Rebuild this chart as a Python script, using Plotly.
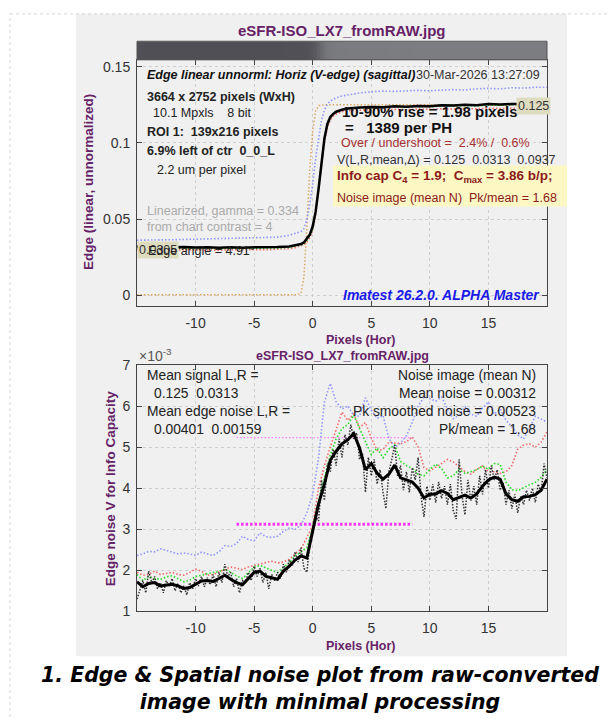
import plotly.graph_objects as go

W, H = 608, 725

# ---------------- data ----------------
x_ticks = [-10, -5, 0, 5, 10, 15]
x_tick_text = ["-10", "-5", "0", "5", "10", "15"]
y_top_ticks = [0, 0.05, 0.1, 0.15]
y_top_text = ["0", "0.05", "0.1", "0.15"]
y_bot_ticks = [1, 2, 3, 4, 5, 6, 7]
y_bot_text = ["1", "2", "3", "4", "5", "6", "7"]

# Top plot: edge profile (linear, unnormalized)
x_top = [-15, -14, -13, -12, -11, -10, -9, -8, -7, -6, -5, -4, -3, -2, -1.5, -1, -0.75, -0.5, -0.25, 0,
         0.25, 0.5, 0.75, 1, 1.25, 1.5, 1.75, 2, 2.5, 3, 4, 5, 6, 7, 8, 9, 10, 11, 12, 13, 14, 15, 16,
         17, 18, 19, 20]
edge_black = [0.0322, 0.0318, 0.0320, 0.0316, 0.0318, 0.0315, 0.0317, 0.0314, 0.0316, 0.0313, 0.0316,
              0.0315, 0.0318, 0.0322, 0.0328, 0.0338, 0.0348, 0.0375, 0.0400, 0.0455, 0.0550, 0.0700,
              0.0880, 0.1030, 0.1125, 0.1170, 0.1190, 0.1205, 0.1218, 0.1226, 0.1232, 0.1236, 0.1234,
              0.1240, 0.1238, 0.1243, 0.1241, 0.1247, 0.1245, 0.1250, 0.1248, 0.1255, 0.1252, 0.1256,
              0.1255, 0.1258, 0.1260]
edge_red = [0.0302, 0.0300, 0.0303, 0.0299, 0.0301, 0.0298, 0.0300, 0.0297, 0.0300, 0.0298, 0.0301,
            0.0300, 0.0303, 0.0308, 0.0314, 0.0324, 0.0334, 0.0352, 0.0380, 0.0425, 0.0530, 0.0690,
            0.0870, 0.1010, 0.1100, 0.1150, 0.1175, 0.1190, 0.1205, 0.1212, 0.1215, 0.1218, 0.1216,
            0.1220, 0.1218, 0.1222, 0.1220, 0.1224, 0.1222, 0.1226, 0.1224, 0.1228, 0.1226, 0.1228,
            0.1227, 0.1229, 0.1230]
edge_green = [0.0314, 0.0311, 0.0313, 0.0309, 0.0311, 0.0308, 0.0310, 0.0307, 0.0310, 0.0307, 0.0310,
              0.0309, 0.0312, 0.0316, 0.0322, 0.0332, 0.0342, 0.0362, 0.0390, 0.0435, 0.0550, 0.0710,
              0.0890, 0.1030, 0.1115, 0.1165, 0.1190, 0.1205, 0.1218, 0.1226, 0.1230, 0.1233, 0.1231,
              0.1237, 0.1235, 0.1240, 0.1237, 0.1243, 0.1241, 0.1245, 0.1243, 0.1250, 0.1247, 0.1251,
              0.1250, 0.1253, 0.1255]
edge_blue = [0.0363, 0.0362, 0.0365, 0.0366, 0.0368, 0.0370, 0.0372, 0.0373, 0.0375, 0.0377, 0.0378,
             0.0380, 0.0383, 0.0395, 0.0405, 0.0420, 0.0440, 0.0500, 0.0600, 0.0730, 0.0900, 0.1040,
             0.1150, 0.1215, 0.1255, 0.1275, 0.1288, 0.1296, 0.1308, 0.1315, 0.1328, 0.1335, 0.1340,
             0.1338, 0.1343, 0.1345, 0.1342, 0.1348, 0.1350, 0.1347, 0.1355, 0.1358, 0.1355, 0.1362,
             0.1360, 0.1365, 0.1365]
edge_ideal = [0.0005, 0.0005, 0.0005, 0.0005, 0.0005, 0.0005, 0.0005, 0.0005, 0.0005, 0.0005, 0.0005,
              0.0005, 0.0005, 0.0005, 0.0005, 0.0015, 0.0120, 0.0450, 0.0830, 0.1080, 0.1210, 0.1245,
              0.1250, 0.1250, 0.1250, 0.1250, 0.1250, 0.1250, 0.1250, 0.1250, 0.1250, 0.1250, 0.1250,
              0.1250, 0.1250, 0.1250, 0.1250, 0.1250, 0.1250, 0.1250, 0.1250, 0.1250, 0.1250, 0.1250,
              0.1250, 0.1250, 0.1250]

# Bottom plot: edge noise (units of 1e-3)
x_noise = [-15, -14.5, -14, -13.5, -13, -12.5, -12, -11.5, -11, -10.5, -10, -9.5, -9, -8.5, -8, -7.5,
           -7, -6.5, -6, -5.5, -5, -4.5, -4, -3.5, -3, -2.5, -2, -1.5, -1, -0.5, 0, 0.5, 1, 1.5, 2,
           2.5, 3, 3.5, 4, 4.5, 5, 5.5, 6, 6.5, 7, 7.5, 8, 8.5, 9, 9.5, 10, 10.5, 11, 11.5, 12, 12.5,
           13, 13.5, 14, 14.5, 15, 15.5, 16, 16.5, 17, 17.5, 18, 18.5, 19, 19.5, 20]
noise_smooth = [1.72, 1.60, 1.68, 1.70, 1.62, 1.64, 1.66, 1.62, 1.56, 1.58, 1.66, 1.74, 1.75, 1.73,
                1.80, 1.88, 1.78, 1.70, 1.65, 1.80, 1.95, 1.98, 1.85, 1.82, 1.78, 1.98, 2.10, 2.25,
                2.35, 2.30, 2.98, 3.62, 4.10, 4.68, 4.90, 5.08, 5.18, 5.33, 4.98, 4.45, 4.60, 4.36,
                4.22, 4.34, 4.56, 4.25, 4.20, 4.15, 4.00, 3.76, 3.85, 3.86, 3.94, 3.87, 3.72, 3.78,
                3.83, 3.76, 3.86, 4.05, 4.20, 4.27, 4.22, 3.86, 3.72, 3.68, 3.79, 3.80, 3.84, 3.95,
                4.22]
noise_green = [1.90, 1.75, 1.85, 1.80, 1.78, 1.84, 1.87, 1.80, 1.72, 1.76, 1.85, 1.88, 1.92, 1.95,
               1.97, 2.03, 1.95, 1.86, 1.80, 1.95, 2.08, 2.12, 2.05, 2.00, 1.95, 2.08, 2.19, 2.35,
               2.45, 2.55, 3.05, 3.70, 4.25, 4.80, 5.20, 5.45, 5.55, 5.78, 5.45, 5.15, 4.82, 4.98,
               4.74, 4.95, 5.05, 4.65, 4.55, 4.48, 4.34, 4.30, 4.46, 4.58, 4.48, 4.25, 4.30, 4.46,
               4.36, 4.40, 4.45, 4.54, 4.46, 4.60, 4.58, 4.15, 3.96, 3.94, 4.02, 4.08, 4.14, 4.26,
               4.46]
noise_red = [1.95, 1.88, 1.90, 1.98, 1.90, 1.92, 1.95, 1.90, 1.88, 1.95, 2.03, 1.98, 1.88, 1.90,
             1.96, 2.03, 2.08, 2.05, 2.02, 2.08, 2.12, 2.15, 2.19, 2.22, 2.18, 2.20, 2.27, 2.40,
             2.52, 2.80, 3.10, 4.00, 4.55, 5.00, 5.40, 5.85, 5.65, 5.80, 5.48, 5.60, 5.22, 4.92,
             4.94, 5.12, 5.10, 5.08, 5.13, 5.25, 5.00, 4.50, 4.42, 4.50, 4.60, 4.70, 4.64, 4.52,
             4.40, 4.34, 4.46, 4.54, 4.40, 4.40, 4.36, 4.40, 4.55, 4.95, 5.05, 5.08, 5.00, 5.12,
             5.37]
noise_blue = [2.36, 2.40, 2.46, 2.45, 2.52, 2.49, 2.44, 2.40, 2.42, 2.40, 2.36, 2.44, 2.40, 2.36,
              2.45, 2.60, 2.58, 2.65, 2.83, 2.75, 2.72, 2.91, 2.82, 2.80, 2.83, 2.95, 3.03, 3.00,
              3.10, 3.40, 3.85, 4.74, 6.10, 6.55, 6.10, 5.93, 6.00, 5.77, 5.75, 6.20, 5.90, 5.70,
              5.77, 5.21, 5.00, 5.10, 5.28, 5.60, 6.00, 6.22, 6.18, 6.12, 6.22, 5.93, 5.69, 5.78,
              5.98, 5.80, 5.75, 5.95, 6.10, 5.80, 5.93, 5.65, 5.50, 5.30, 5.20, 5.45, 5.75, 5.68,
              5.61]

x_raw = [-15.0, -14.75, -14.5, -14.25, -14.0, -13.75, -13.5, -13.25, -13.0, -12.75, -12.5, -12.25,
         -12.0, -11.75, -11.5, -11.25, -11.0, -10.75, -10.5, -10.25, -10.0, -9.75, -9.5, -9.25,
         -9.0, -8.75, -8.5, -8.25, -8.0, -7.75, -7.5, -7.25, -7.0, -6.75, -6.5, -6.25, -6.0, -5.75,
         -5.5, -5.25, -5.0, -4.75, -4.5, -4.25, -4.0, -3.75, -3.5, -3.25, -3.0, -2.75, -2.5, -2.25,
         -2.0, -1.75, -1.5, -1.25, -1.0, -0.75, -0.5, -0.25, 0.0, 0.25, 0.5, 0.75, 1.0, 1.25, 1.5,
         1.75, 2.0, 2.25, 2.5, 2.75, 3.0, 3.25, 3.5, 3.75, 4.0, 4.25, 4.5, 4.75, 5.0, 5.25, 5.5,
         5.75, 6.0, 6.25, 6.5, 6.75, 7.0, 7.25, 7.5, 7.75, 8.0, 8.25, 8.5, 8.75, 9.0, 9.25, 9.5,
         9.75, 10.0, 10.25, 10.5, 10.75, 11.0, 11.25, 11.5, 11.75, 12.0, 12.25, 12.5, 12.75, 13.0,
         13.25, 13.5, 13.75, 14.0, 14.25, 14.5, 14.75, 15.0, 15.25, 15.5, 15.75, 16.0, 16.25, 16.5,
         16.75, 17.0, 17.25, 17.5, 17.75, 18.0, 18.25, 18.5, 18.75, 19.0, 19.25, 19.5, 19.75, 20.0]
noise_raw = [1.30, 1.55, 1.75, 1.45, 1.98, 1.70, 1.85, 1.55, 1.70, 1.45, 1.75, 1.60, 1.80, 1.50,
             1.68, 1.45, 1.62, 1.40, 1.70, 1.55, 1.80, 1.62, 1.85, 1.60, 1.82, 1.65, 1.90, 1.60,
             1.95, 1.70, 2.15, 1.85, 1.95, 1.60, 1.80, 1.45, 1.75, 1.70, 1.95, 1.75, 2.10, 1.85,
             2.05, 1.70, 1.95, 1.55, 1.90, 1.75, 1.95, 1.80, 2.15, 1.95, 2.25, 2.10, 2.45, 2.20,
             2.55, 2.05, 1.95, 2.65, 2.90, 3.30, 3.20, 4.20, 3.70, 4.60, 4.40, 4.95, 4.55, 5.20,
             4.75, 5.30, 5.05, 5.55, 5.20, 5.35, 4.70, 4.85, 3.90, 4.75, 4.30, 4.70, 4.10, 4.45,
             3.90, 3.50, 4.40, 4.70, 5.05, 4.30, 4.55, 3.95, 4.40, 3.90, 4.50, 4.20, 4.75, 3.80,
             3.30, 4.05, 3.70, 4.10, 3.65, 4.15, 3.75, 4.05, 3.60, 4.10, 3.45, 3.25, 4.70, 3.80,
             3.35, 4.20, 3.70, 4.05, 3.60, 4.30, 3.85, 4.45, 4.00, 4.55, 4.20, 4.45, 3.95, 4.15,
             3.60, 3.95, 3.50, 3.85, 3.40, 3.80, 3.60, 3.95, 3.70, 4.00, 3.65, 4.10, 3.90, 4.60,
             4.25]

mean_noise_level = 3.12      # x1e-3
pk_noise_level = 5.23        # x1e-3
level_x = [-6.5, 8.5]

# ---------------- helpers ----------------
def px(x):
    return x / W

def py(y):
    return 1 - y / H

PLOT_L, PLOT_R = 137, 547
TOP_T, TOP_B = 53, 305
BAR_T = 34
BOT_T, BOT_B = 365, 617

FONT = "Liberation Sans, Arial, sans-serif"
PURPLE = "#662266"
AX = "#333333"

fig = go.Figure()

# gradient bar (edge image) from the edge profile
fig.add_trace(go.Heatmap(
    x=x_top, y=[0], z=[edge_black], xaxis="x3", yaxis="y3",
    colorscale=[[0, "#4f4f55"], [1, "#7c7d80"]], zmin=0.031, zmax=0.125,
    showscale=False, hoverinfo="skip"))

DOT = "1.5px,2px"

# top plot traces
fig.add_trace(go.Scatter(x=x_top, y=edge_ideal, mode="lines", xaxis="x", yaxis="y",
                         line=dict(color="#dba862", width=1.5, dash=DOT)))
fig.add_trace(go.Scatter(x=x_top, y=edge_blue, mode="lines", xaxis="x", yaxis="y",
                         line=dict(color="#8f96ff", width=1.6, dash=DOT)))
fig.add_trace(go.Scatter(x=x_top, y=edge_red, mode="lines", xaxis="x", yaxis="y",
                         line=dict(color="#f06a6a", width=1.6, dash=DOT)))
fig.add_trace(go.Scatter(x=x_top, y=edge_green, mode="lines", xaxis="x", yaxis="y",
                         line=dict(color="#2ccf2c", width=1.6, dash=DOT)))
fig.add_trace(go.Scatter(x=x_top, y=edge_black, mode="lines", xaxis="x", yaxis="y",
                         line=dict(color="#000000", width=2.5)))

# bottom plot traces
fig.add_trace(go.Scatter(x=level_x, y=[pk_noise_level] * 2, mode="lines", xaxis="x2", yaxis="y2",
                         line=dict(color="#ff80ff", width=1.3, dash=DOT)))
fig.add_trace(go.Scatter(x=level_x, y=[mean_noise_level] * 2, mode="lines", xaxis="x2", yaxis="y2",
                         line=dict(color="#ff33ff", width=3, dash="2.5px,2px")))
fig.add_trace(go.Scatter(x=x_noise, y=noise_blue, mode="lines", xaxis="x2", yaxis="y2",
                         line=dict(color="#8f96ff", width=1.6, dash=DOT)))
fig.add_trace(go.Scatter(x=x_noise, y=noise_red, mode="lines", xaxis="x2", yaxis="y2",
                         line=dict(color="#f06a6a", width=1.6, dash=DOT)))
fig.add_trace(go.Scatter(x=x_noise, y=noise_green, mode="lines", xaxis="x2", yaxis="y2",
                         line=dict(color="#22dd22", width=1.6, dash=DOT)))
fig.add_trace(go.Scatter(x=x_raw, y=noise_raw, mode="lines", xaxis="x2", yaxis="y2",
                         line=dict(color="#333333", width=1.5, dash="1.5px,1.5px")))
fig.add_trace(go.Scatter(x=x_noise, y=noise_smooth, mode="lines", xaxis="x2", yaxis="y2",
                         line=dict(color="#000000", width=3)))

axis_common = dict(
    showline=True, linecolor="#444444", linewidth=1, mirror="ticks",
    ticks="inside", ticklen=5, tickcolor="#444444",
    showgrid=True, gridcolor="#cfcfcf", griddash="dot", gridwidth=1,
    zeroline=False, tickfont=dict(family=FONT, size=14, color=AX),
    fixedrange=True,
)

fig.update_layout(
    width=W, height=H, margin=dict(l=0, r=0, t=0, b=0),
    paper_bgcolor="white", plot_bgcolor="white", showlegend=False,
    font=dict(family=FONT, color="#222222"),
    xaxis=dict(domain=[px(PLOT_L), px(PLOT_R)], range=[-15, 20], anchor="y",
               tickvals=x_ticks, ticktext=x_tick_text, ticklabelstandoff=4, **axis_common),
    yaxis=dict(domain=[py(TOP_B), py(TOP_T)], range=[-0.007, 0.1545], anchor="x",
               tickvals=y_top_ticks, ticktext=y_top_text, ticklabelstandoff=3, **axis_common),
    xaxis2=dict(domain=[px(PLOT_L), px(PLOT_R)], range=[-15, 20], anchor="y2",
                tickvals=x_ticks, ticktext=x_tick_text, ticklabelstandoff=4, **axis_common),
    yaxis2=dict(domain=[py(BOT_B), py(BOT_T)], range=[1, 7], anchor="x2",
                tickvals=y_bot_ticks, ticktext=y_bot_text, ticklabelstandoff=3, **axis_common),
    xaxis3=dict(domain=[px(PLOT_L), px(PLOT_R)], range=[-15, 20], anchor="y3",
                visible=False, fixedrange=True),
    yaxis3=dict(domain=[py(TOP_T), py(BAR_T)], range=[-0.5, 0.5], anchor="x3",
                visible=False, fixedrange=True),
)

shapes = [
    # gray panel
    dict(type="rect", xref="paper", yref="paper", x0=px(76), x1=px(567), y0=py(663), y1=py(6),
         fillcolor="#f0f0f0", line=dict(width=0), layer="below"),
    # faint page border lines
    dict(type="line", xref="paper", yref="paper", x0=px(10), x1=px(10), y0=0, y1=py(6),
         line=dict(color="#d6d6d6", width=1, dash="dot"), layer="below"),
    dict(type="line", xref="paper", yref="paper", x0=px(10), x1=1, y0=py(6), y1=py(6),
         line=dict(color="#d6d6d6", width=1, dash="dot"), layer="below"),
    # yellow info box
    dict(type="rect", xref="paper", yref="paper", x0=px(333), x1=px(567), y0=py(203), y1=py(161),
         fillcolor="#fdf7c4", line=dict(width=0), layer="above"),
    # bar outline
    dict(type="rect", xref="paper", yref="paper", x0=px(PLOT_L), x1=px(PLOT_R), y0=py(TOP_T), y1=py(BAR_T),
         fillcolor="rgba(0,0,0,0)", line=dict(color="#555555", width=1), layer="above"),
]
fig.update_layout(shapes=shapes)

ann = []

def text(x, y, s, size=12.5, color="#222222", anchor="left", angle=0, bg=None, family=FONT):
    d = dict(x=px(x), y=py(y), xref="paper", yref="paper", text=s, showarrow=False,
             xanchor=anchor, yanchor="middle", textangle=angle,
             font=dict(family=family, size=size, color=color))
    if bg:
        d["bgcolor"] = bg
        d["borderpad"] = 1
    ann.append(d)

# titles
text(342, 23, "<b>eSFR-ISO_LX7_fromRAW.jpg</b>", size=15, color=PURPLE, anchor="center")
text(88, 178, "<b>Edge (linear, unnormalized)</b>", size=13.5, color=PURPLE, anchor="center", angle=-90)
text(360, 340, "<b>Pixels (Hor)</b>", size=12.5, color=PURPLE, anchor="center")
text(342, 356, "<b>eSFR-ISO_LX7_fromRAW.jpg</b>", size=12.5, color=PURPLE, anchor="center")
text(110, 491, "<b>Edge noise V for Info Capacity</b>", size=13.5, color=PURPLE, anchor="center", angle=-90)
text(360, 652, "<b>Pixels (Hor)</b>", size=12.5, color=PURPLE, anchor="center")
text(137, 355, "×10<sup>-3</sup>", size=14, color="#555555")

# top plot texts
text(145, 69, "<b><i>Edge linear unnorml: Horiz (V-edge) (sagittal)</i></b>", color="#111111")
text(414, 69, "30-Mar-2026 13:27:09", color="#333333")
text(145, 91, "<b>3664 x 2752 pixels (WxH)</b>", color="#222222")
text(151, 107, "10.1 Mpxls    8 bit", color="#222222")
text(145, 127, "<b>ROI 1:  139x216 pixels</b>", color="#222222")
text(145, 146, "<b>6.9% left of ctr  0_0_L</b>", color="#222222")
text(155, 166, "2.2 um per pixel", color="#222222")
text(145, 208, "Linearized, gamma = 0.334", color="#aaaaaa")
text(145, 224, "from chart contrast = 4", color="#aaaaaa")
text(137, 247, "0.0305", color="#333333", bg="#dedcbf")
text(146, 248, "Edge angle = 4.91°", color="#222222")
text(340, 106, "<b>10-90% rise = 1.98 pixels</b>", size=15, color="#111111")
text(343, 122, "<b>=   1389 per PH</b>", size=15, color="#111111")
text(516, 100, "0.125", color="#333333", bg="#dedcbf")
text(339, 138, "Over / undershoot =  2.4% /  0.6%", color="#a83232")
text(335, 155, "V(L,R,mean,Δ) = 0.125  0.0313  0.0937", color="#333333")
text(335, 172, "<b>Info cap C<sub>4</sub> = 1.9;  C<sub>max</sub> = 3.86 b/p;</b>", size=13.5, color="#8b1a1a")
text(335, 194, "Noise image (mean N)  Pk/mean = 1.68", color="#8b1a1a")
text(341, 293, "<b><i>Imatest 26.2.0. ALPHA Master</i></b>", size=14, color="#1a1ae6")

# bottom plot texts
text(145, 376, "Mean signal L,R =", size=13.8)
text(152, 394, "0.125  0.0313", size=13.8)
text(145, 413, "Mean edge noise L,R =", size=13.8)
text(152, 431, "0.00401  0.00159", size=13.8)
text(538, 376, "Noise image (mean N)", size=13.8, anchor="right")
text(538, 394, "Mean noise = 0.00312", size=13.8, anchor="right")
text(538, 413, "Pk smoothed noise = 0.00523", size=13.8, anchor="right")
text(538, 431, "Pk/mean = 1.68", size=13.8, anchor="right")

# caption (two lines in one text block)
CAP_FONT = "DejaVu Sans, sans-serif"
text(320, 696, "<b><i>1. Edge &amp; Spatial noise plot from raw-converted<br>image with minimal processing</i></b>",
     size=20.5, color="#000000", anchor="center", family=CAP_FONT)

fig.update_layout(annotations=ann)

fig.write_html("out.html")
